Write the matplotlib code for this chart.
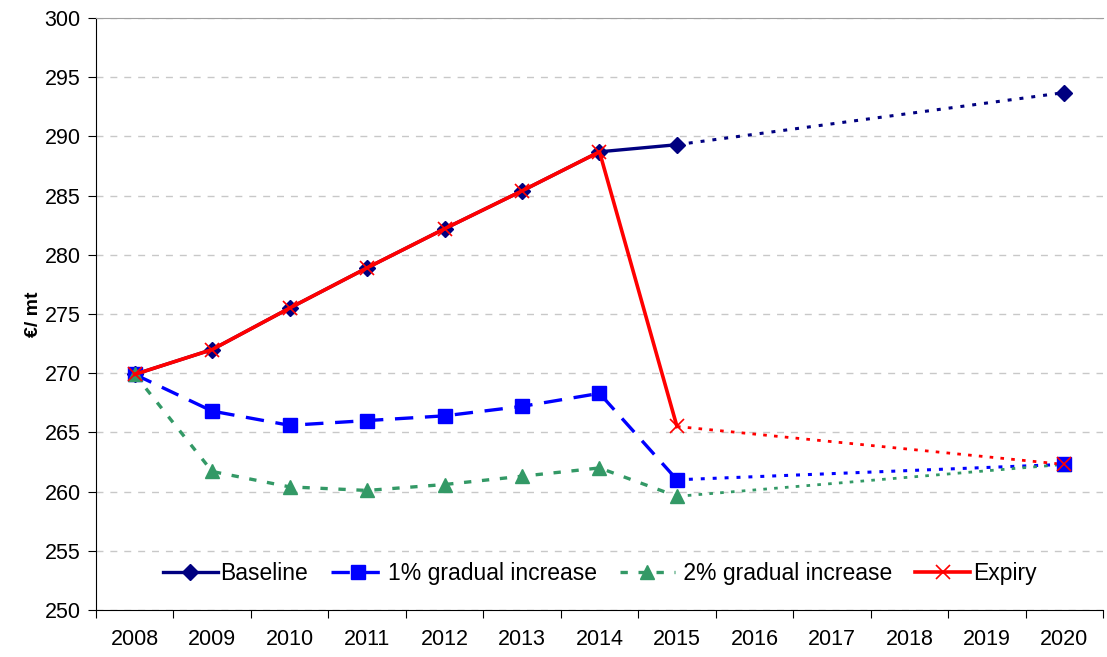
import matplotlib
import numpy as np

matplotlib.use('Agg')
import matplotlib.pyplot as plt

plt.rcParams['font.family'] = ['Liberation Sans', 'DejaVu Sans']

years = ['2008', '2009', '2010', '2011', '2012', '2013', '2014',
         '2015', '2016', '2017', '2018', '2019', '2020']
nan = np.nan
baseline = [269.9, 272.0, 275.5, 278.9, 282.2, 285.4, 288.7, 289.3, nan, nan, nan, nan, 293.7]
inc1 = [269.9, 266.8, 265.6, 266.0, 266.4, 267.2, 268.3, 261.0, nan, nan, nan, nan, 262.3]
inc2 = [269.9, 261.7, 260.4, 260.1, 260.6, 261.3, 262.0, 259.6, nan, nan, nan, nan, 262.3]
expiry = [269.9, 272.0, 275.5, 278.9, 282.2, 285.4, 288.7, 265.5, nan, nan, nan, nan, 262.3]

x = np.arange(len(years))

fig = plt.figure(figsize=(11.07, 6.57), dpi=100)
ax = fig.add_axes([0.0867, 0.0715, 0.9097, 0.9011])

# dotted projections from 2015 to 2020 (drawn first so markers sit on top)
def proj(vals, color, lw):
    ax.plot([x[7], x[12]], [vals[7], vals[12]], color=color, lw=lw,
            dashes=(1.3, 2.6), zorder=2)

proj(baseline, '#000080', 2.2)
proj(inc1, '#0000FF', 2.2)
proj(inc2, '#339966', 2.0)
proj(expiry, '#FF0000', 2.0)

s = slice(0, 8)
ax.plot(x[s], baseline[s], color='#000080', lw=2.4, marker='D', ms=8.5,
        label='Baseline', zorder=3)
l1, = ax.plot(x[s], inc1[s], color='#0000FF', lw=2.4, marker='s', ms=10.5,
              label='1% gradual increase', zorder=3)
l1.set_dashes((5.5, 3.5))
l2, = ax.plot(x[s], inc2[s], color='#339966', lw=2.4, marker='^', ms=10.5,
              label=' 2% gradual increase', zorder=3)
l2.set_dashes((2.2, 3.2))
ax.plot(x[s], expiry[s], color='#FF0000', lw=2.6, marker='x', ms=10, mew=1.2,
        label='Expiry', zorder=4)

# 2020 end markers
ax.plot(x[12], baseline[12], color='#000080', marker='D', ms=8.5, zorder=3)
ax.plot(x[12], inc2[12], color='#339966', marker='^', ms=10.5, zorder=3)
ax.plot(x[12], inc1[12], color='#0000FF', marker='s', ms=10.5, zorder=3)
ax.plot(x[12], expiry[12], color='#FF0000', marker='x', ms=10, mew=1.2, zorder=4)

ax.set_xlim(-0.5, 12.5)
ax.set_ylim(250, 300)
ax.set_yticks(np.arange(250, 301, 5))
ax.set_xticks(np.arange(-0.5, 13, 1))
ax.set_xticklabels([])
ax.set_xticks(x, minor=True)
ax.set_xticklabels(years, minor=True)
ax.tick_params(axis='x', which='minor', length=0, pad=14, labelsize=15.5)
ax.tick_params(axis='x', which='major', length=6, direction='out')
ax.tick_params(axis='y', length=6, direction='out', labelsize=15.5, pad=5)

ax.yaxis.grid(True, color='#c8c8c8', ls=(0, (5, 5)), lw=1)
ax.set_axisbelow(True)
ax.spines['right'].set_visible(False)
ax.spines['top'].set_color('#a0a0a0')

ax.set_ylabel('€/ mt', fontsize=14, fontweight='bold', labelpad=2)

ax.legend(loc='center', bbox_to_anchor=(0.5, 0.0625), ncol=4, frameon=False,
          fontsize=16.5, handlelength=2.4, handletextpad=0.1, columnspacing=1.0)

fig.savefig('out.png', dpi=100)
